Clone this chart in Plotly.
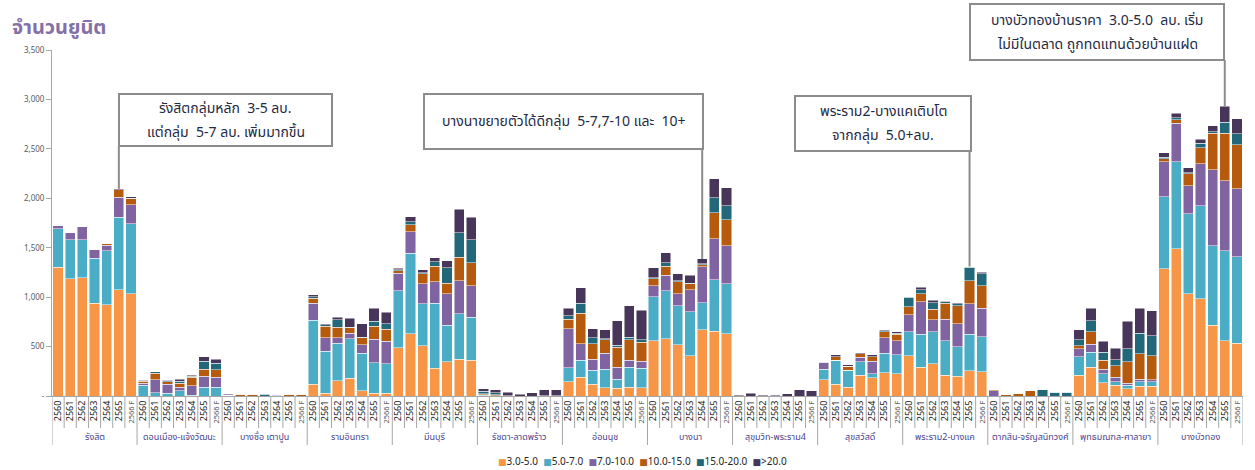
import plotly.graph_objects as go

# Zones (7 bars each: 2560 .. 2566 F)
groups = ["รังสิต", "ดอนเมือง-แจ้งวัฒนะ", "บางซื่อ เตาปูน", "รามอินทรา", "มีนบุรี",
          "รัชดา-ลาดพร้าว", "อ่อนนุช", "บางนา", "สุขุมวิท-พระราม4", "สุขสวัสดิ์",
          "พระราม2-บางแค", "ตากสิน-จรัญสนิทวงศ์", "พุทธมณฑล-ศาลายา", "บางบัวทอง"]
years = ["2560", "2561", "2562", "2563", "2564", "2565", "2566 F"]

series_names = ["3.0-5.0", "5.0-7.0", "7.0-10.0", "10.0-15.0", "15.0-20.0", ">20.0"]
series_colors = ["#F79646", "#4BACC6", "#8064A2", "#B65A0E", "#22687A", "#473659"]

# Units by price band (million baht), one row per zone
p3_5 = [1300, 1185, 1197, 938, 921, 1073, 1032,
        0, 0, 0, 0, 0, 0, 0,
        0, 0, 0, 0, 0, 0, 0,
        121, 27, 152, 182, 51, 27, 27,
        489, 631, 506, 283, 347, 371, 364,
        0, 0, 0, 0, 0, 0, 0,
        145, 192, 121, 81, 78, 88, 81,
        557, 577, 516, 405, 668, 654, 631,
        0, 0, 0, 0, 0, 0, 0,
        162, 121, 91, 212, 186, 233, 223,
        405, 293, 324, 212, 202, 253, 243,
        0, 0, 0, 0, 0, 0, 0,
        212, 293, 132, 111, 71, 101, 101,
        1285, 1488, 1032, 982, 718, 557, 536]
p5_7 = [390, 395, 382, 458, 546, 735, 708,
        110, 34, 30, 54, 10, 88, 88,
        0, 0, 0, 0, 0, 0, 0,
        645, 428, 384, 395, 381, 307, 297,
        574, 813, 425, 655, 371, 459, 435,
        10, 5, 0, 0, 0, 0, 0,
        142, 172, 142, 192, 94, 205, 202,
        448, 486, 398, 445, 273, 520, 502,
        0, 0, 0, 0, 0, 0, 0,
        111, 243, 172, 132, 40, 202, 192,
        243, 334, 324, 345, 294, 374, 354,
        0, 0, 0, 0, 0, 0, 0,
        183, 152, 94, 34, 40, 44, 41,
        729, 883, 810, 941, 800, 910, 871]
p7_10 = [30, 70, 131, 88, 58, 202, 193,
         20, 128, 87, 34, 95, 114, 104,
         10, 0, 0, 0, 8, 0, 0,
         172, 132, 51, 57, 84, 239, 229,
         178, 219, 202, 216, 314, 334, 314,
         5, 0, 0, 0, 0, 0, 0,
         391, 166, 108, 159, 118, 71, 71,
         108, 161, 118, 223, 364, 415, 385,
         5, 0, 5, 5, 0, 0, 0,
         64, 0, 0, 47, 128, 152, 142,
         172, 324, 121, 219, 233, 304, 293,
         55, 0, 0, 0, 0, 0, 0,
         81, 81, 47, 47, 17, 27, 20,
         357, 388, 283, 425, 769, 709, 688]
p10_15 = [0, 0, 0, 0, 13, 75, 67,
          20, 67, 27, 40, 87, 68, 74,
          0, 18, 20, 0, 10, 18, 18,
          50, 121, 108, 57, 71, 135, 122,
          24, 67, 102, 161, 108, 239, 233,
          8, 8, 0, 0, 0, 4, 4,
          98, 306, 159, 135, 202, 203, 192,
          71, 91, 122, 60, 21, 263, 263,
          0, 0, 0, 0, 0, 0, 0,
          0, 31, 37, 34, 44, 61, 70,
          81, 81, 108, 162, 185, 233, 223,
          6, 13, 30, 54, 0, 0, 0,
          30, 122, 91, 115, 219, 253, 243,
          27, 34, 121, 165, 371, 483, 448]
p15_20 = [0, 0, 0, 0, 0, 0, 0,
          5, 14, 8, 20, 10, 81, 64,
          0, 0, 0, 18, 0, 0, 0,
          17, 12, 74, 7, 7, 48, 54,
          10, 31, 13, 41, 159, 250, 233,
          25, 18, 5, 0, 0, 0, 0,
          37, 102, 57, 10, 21, 27, 21,
          13, 31, 13, 10, 10, 152, 142,
          0, 0, 0, 0, 0, 0, 0,
          5, 0, 0, 0, 0, 13, 10,
          97, 41, 64, 13, 17, 138, 122,
          0, 0, 0, 0, 61, 40, 40,
          61, 111, 81, 61, 129, 212, 202,
          17, 24, 11, 44, 17, 111, 111]
p20_up = [0, 0, 0, 0, 0, 10, 14,
          5, 0, 8, 24, 10, 44, 44,
          6, 4, 0, 4, 0, 0, 0,
          20, 9, 27, 88, 135, 131, 118,
          17, 50, 27, 44, 67, 236, 229,
          23, 30, 35, 20, 34, 60, 60,
          77, 158, 91, 91, 246, 317, 300,
          98, 101, 68, 81, 50, 192, 182,
          8, 30, 8, 8, 24, 61, 51,
          5, 20, 14, 13, 17, 10, 11,
          7, 27, 27, 7, 10, 7, 16,
          0, 0, 0, 0, 0, 0, 0,
          101, 131, 108, 114, 280, 253, 253,
          47, 44, 50, 41, 57, 162, 149]

series_values = [p3_5, p5_7, p7_10, p10_15, p15_20, p20_up]

# Call-out notes: (zone, year, lines of text)
notes = [
    ("รังสิต", "2565", ["รังสิตกลุ่มหลัก  3-5 ลบ.", "แต่กลุ่ม  5-7 ลบ. เพิ่มมากขึ้น"]),
    ("บางนา", "2564", ["บางนาขยายตัวได้ดีกลุ่ม  5-7,7-10 และ  10+"]),
    ("พระราม2-บางแค", "2565", ["พระราม2-บางแคเติบโต", "จากกลุ่ม  5.0+ลบ."]),
    ("บางบัวทอง", "2565", ["บางบัวทองบ้านราคา  3.0-5.0  ลบ. เริ่ม",
                           "ไม่มีในตลาด ถูกทดแทนด้วยบ้านแฝด"]),
]

n_years = len(years)
n_bars = len(groups) * n_years
idx = list(range(n_bars))
totals = [sum(s[i] for s in series_values) for i in idx]

# Figure geometry (pixels)
FIG_W, FIG_H = 1255, 470
ML, MR, MT, MB = 52, 12, 50, 74
PW, PH = FIG_W - ML - MR, FIG_H - MT - MB
Y_MAX = 3500


def px_x(px):
    return (px - ML) / PW


def px_y(py):
    return (FIG_H - MB - py) / PH


FONT = "Tahoma, 'Noto Sans Thai', 'Noto Sans', 'DejaVu Sans', sans-serif"

fig = go.Figure()
for name, color, vals in zip(series_names, series_colors, series_values):
    fig.add_trace(go.Bar(
        x=idx, y=vals, name=name,
        marker=dict(color=color, line=dict(color="rgba(255,255,255,0.8)", width=0.6)),
        showlegend=False,
    ))

tick_text = []
for g in groups:
    for y in years:
        if y.endswith("F"):
            tick_text.append("<span style='font-size:7.5px;color:#595959'>" + y + "</span>")
        else:
            tick_text.append(y)

shapes = []
# cell dividers under the axis
for i in range(1, n_bars):
    is_group = i % n_years == 0
    shapes.append(dict(
        type="line", xref="x", yref="paper",
        x0=i - 0.5, x1=i - 0.5, y0=0, y1=-(49 if is_group else 32) / PH,
        line=dict(color="#A6A6A6", width=1),
    ))
for edge in (-0.5, n_bars - 0.5):
    shapes.append(dict(
        type="line", xref="x", yref="paper",
        x0=edge, x1=edge, y0=0, y1=-49 / PH,
        line=dict(color="#A6A6A6", width=1),
    ))

annotations = []
# zone labels
for gi, g in enumerate(groups):
    annotations.append(dict(
        x=gi * n_years + (n_years - 1) / 2, y=-41 / PH, xref="x", yref="paper",
        text=g, showarrow=False, xanchor="center", yanchor="middle",
        font=dict(family=FONT, size=9, color="#4B3F8C"),
    ))

# call-out boxes: (left, top, right, bottom) in pixels, with line pitch
box_px = [(119, 94, 332, 146), (424, 94, 703, 149), (795, 96, 971, 151), (970, 4, 1224, 60)]
LINE_PITCH = 24
for (zone, year, lines), (bl, bt, br, bb) in zip(notes, box_px):
    bi = groups.index(zone) * n_years + years.index(year)
    shapes.append(dict(
        type="rect", xref="paper", yref="paper",
        x0=px_x(bl), x1=px_x(br), y0=px_y(bb), y1=px_y(bt),
        line=dict(color="#8C8C8C", width=2), fillcolor="white", layer="above",
    ))
    cy = (bt + bb) / 2
    first = cy - LINE_PITCH * (len(lines) - 1) / 2
    for k, line in enumerate(lines):
        annotations.append(dict(
            x=px_x((bl + br) / 2), y=px_y(first + k * LINE_PITCH), xref="paper", yref="paper",
            text=line, showarrow=False, xanchor="center", yanchor="middle",
            font=dict(family=FONT, size=14, color="#1F2A44"),
        ))
    shapes.append(dict(
        type="line", xref="x", yref="y",
        x0=bi, x1=bi, y0=totals[bi], y1=(FIG_H - MB - bb) / PH * Y_MAX,
        line=dict(color="#8C8C8C", width=2),
    ))

# legend row
legend_parts = []
for name, color in zip(series_names, series_colors):
    legend_parts.append("<span style='color:%s;font-size:9px'>■</span>%s" % (color, name))
annotations.append(dict(
    x=px_x(642), y=px_y(462), xref="paper", yref="paper",
    text="&nbsp;&nbsp;".join(legend_parts), showarrow=False,
    xanchor="center", yanchor="middle",
    font=dict(family=FONT, size=10, color="#262626"),
))

# axis title
annotations.append(dict(
    x=px_x(10), y=px_y(28), xref="paper", yref="paper",
    text="<b>จำนวนยูนิต</b>", showarrow=False, xanchor="left", yanchor="middle",
    font=dict(family=FONT, size=20, color="#8470A6"),
))

y_ticks = list(range(0, Y_MAX + 1, 500))
y_labels = ["-" if v == 0 else f"{v:,}" for v in y_ticks]

fig.update_layout(
    width=FIG_W, height=FIG_H,
    margin=dict(l=ML, r=MR, t=MT, b=MB),
    paper_bgcolor="white", plot_bgcolor="white",
    barmode="stack", bargap=0.16,
    shapes=shapes, annotations=annotations,
    xaxis=dict(
        range=[-0.5, n_bars - 0.5], tickmode="array", tickvals=idx, ticktext=tick_text,
        tickangle=-90, ticks="", showgrid=False, zeroline=False,
        showline=True, linecolor="#A6A6A6", linewidth=1,
        tickfont=dict(family=FONT, size=9, color="#1A1A1A"),
    ),
    yaxis=dict(
        range=[0, Y_MAX], tickmode="array", tickvals=y_ticks, ticktext=y_labels,
        ticks="outside", ticklen=5, tickcolor="#A6A6A6", showgrid=False, zeroline=False,
        showline=True, linecolor="#A6A6A6", linewidth=1,
        tickfont=dict(family=FONT, size=8, color="#595959"),
    ),
)

fig.write_html("out.html")
